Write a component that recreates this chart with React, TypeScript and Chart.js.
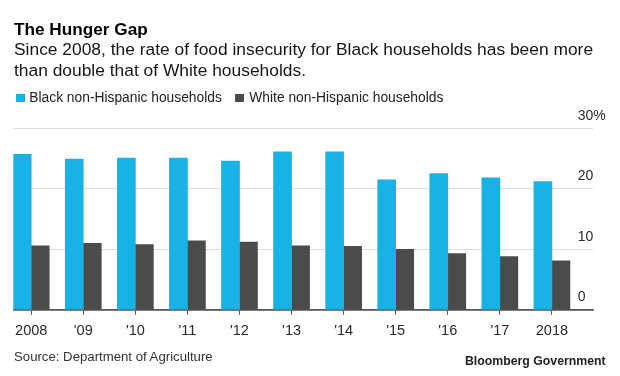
import React, { useEffect, useRef } from 'react';
import { Chart, registerables } from 'chart.js';

Chart.register(...registerables);

const categories = ['2008', "'09", "'10", "'11", "'12", "'13", "'14", "'15", "'16", "'17", '2018'];
const blackValues = [25.7, 24.9, 25.1, 25.1, 24.6, 26.1, 26.1, 21.5, 22.5, 21.8, 21.2];
const whiteValues = [10.6, 11.0, 10.8, 11.4, 11.2, 10.6, 10.5, 10.0, 9.3, 8.8, 8.1];
const yTickValues = [0, 10, 20, 30];
const yTickLabels = ['0', '10', '20', '30%'];
const seriesNames = ['Black non-Hispanic households', 'White non-Hispanic households'];
const seriesColors = ['#19B2E6', '#4B4B4B'];

const titleText = 'The Hunger Gap';
const subtitleText =
  'Since 2008, the rate of food insecurity for Black households has been more than double that of White households.';
const sourceText = 'Source: Department of Agriculture';
const brandText = 'Bloomberg Government';

const FONT = "'Liberation Sans', Arial, Helvetica, sans-serif";

export default function App() {
  const canvasRef = useRef<HTMLCanvasElement | null>(null);

  useEffect(() => {
    const canvas = canvasRef.current;
    if (!canvas) return;
    const toPoints = (vals: number[]) => vals.map((y, i) => ({ x: i, y }));
    const chart = new Chart(canvas, {
      type: 'bar',
      data: {
        datasets: [
          {
            label: seriesNames[0],
            data: toPoints(blackValues) as any,
            backgroundColor: seriesColors[0],
            borderWidth: 0,
            barThickness: 18,
          },
          {
            label: seriesNames[1],
            data: toPoints(whiteValues) as any,
            backgroundColor: seriesColors[1],
            borderWidth: 0,
            barThickness: 18,
          },
        ],
      },
      options: {
        responsive: false,
        animation: false,
        devicePixelRatio: 1,
        layout: { padding: { left: 13.3, right: 1.7, top: 128.3, bottom: 29.7 } },
        plugins: {
          legend: { display: false },
          title: { display: false },
          tooltip: { enabled: false },
        },
        scales: {
          x: {
            type: 'linear',
            min: -0.344,
            max: 10.795,
            offset: false,
            afterBuildTicks: (axis: any) => {
              axis.ticks = categories.map((_, i) => ({ value: i }));
            },
            ticks: {
              autoSkip: false,
              maxRotation: 0,
              padding: 7,
              color: '#2a2a2a',
              font: { family: FONT, size: 14.5 },
              callback: (v: any) => categories[Math.round(Number(v))] ?? '',
            },
            grid: {
              display: true,
              offset: false,
              drawOnChartArea: false,
              drawTicks: true,
              tickLength: 5,
              color: '#555555',
              lineWidth: 1,
            },
            border: { display: true, color: '#555555', width: 1.5 },
          },
          y: {
            position: 'right',
            min: 0,
            max: 30,
            afterBuildTicks: (axis: any) => {
              axis.ticks = yTickValues.map((v) => ({ value: v }));
            },
            ticks: {
              mirror: true,
              crossAlign: 'far',
              padding: 12.5,
              labelOffset: -12.5,
              color: '#2a2a2a',
              font: { family: FONT, size: 14 },
              callback: (_v: any, i: number) => yTickLabels[i],
            },
            grid: {
              drawTicks: false,
              color: (ctx: any) => (ctx.tick && ctx.tick.value === 0 ? '#555555' : '#dcdcdc'),
              lineWidth: (ctx: any) => (ctx.tick && ctx.tick.value === 0 ? 1.5 : 1),
            },
            border: { display: false },
          },
        },
      } as any,
    });
    return () => chart.destroy();
  }, []);

  const abs = (s: React.CSSProperties): React.CSSProperties => ({ position: 'absolute', margin: 0, ...s });

  return (
    <div
      style={{
        position: 'absolute',
        left: 0,
        top: 0,
        width: 620,
        height: 376,
        background: '#ffffff',
        fontFamily: FONT,
        overflow: 'hidden',
      }}
    >
      <canvas ref={canvasRef} width={620} height={376} style={abs({ left: 0, top: 0, width: 620, height: 376 })} />
      <div style={abs({ left: 14, top: 19, fontSize: 17.2, lineHeight: '20px', fontWeight: 700, color: '#000' })}>
        {titleText}
      </div>
      <div style={abs({ left: 14, top: 39.2, width: 600, fontSize: 17.4, lineHeight: '20.5px', color: '#151515' })}>
        {subtitleText}
      </div>
      <div
        style={abs({
          left: 16,
          top: 89.9,
          display: 'flex',
          alignItems: 'center',
          fontSize: 13.8,
          lineHeight: '16px',
          color: '#222',
          whiteSpace: 'nowrap',
        })}
      >
        {seriesNames.map((name, i) => (
          <div key={name} style={{ display: 'flex', alignItems: 'center', marginRight: i === 0 ? 13.2 : 0 }}>
            <span
              style={{ display: 'inline-block', width: 8.5, height: 8.5, background: seriesColors[i], marginRight: i === 0 ? 4.8 : 5.8 }}
            />
            <span>{name}</span>
          </div>
        ))}
      </div>
      <div style={abs({ left: 14, top: 349.1, fontSize: 13.2, lineHeight: '16px', color: '#333' })}>{sourceText}</div>
      <div
        style={abs({ right: 14.3, top: 352.7, fontSize: 12.3, lineHeight: '16px', fontWeight: 700, color: '#222', whiteSpace: 'nowrap' })}
      >
        {brandText}
      </div>
    </div>
  );
}
